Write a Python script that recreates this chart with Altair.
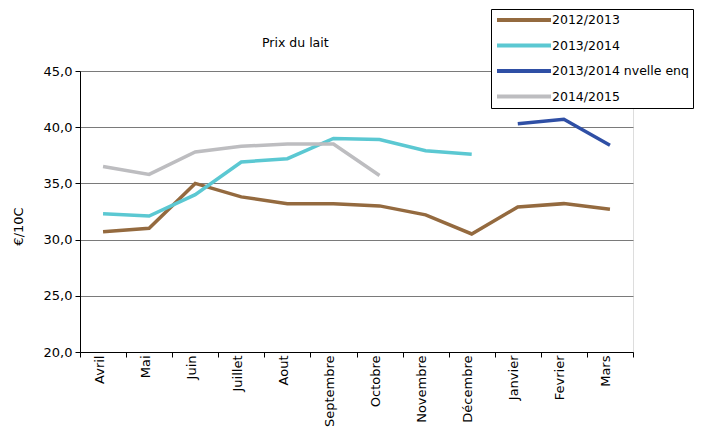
import altair as alt
import pandas as pd

months = ["Avril", "Mai", "Juin", "Juillet", "Aout", "Septembre", "Octobre",
          "Novembre", "Décembre", "Janvier", "Fevrier", "Mars"]
series_names = ["2012/2013", "2013/2014", "2013/2014 nvelle enq", "2014/2015"]
v_2012_2013 = [30.7, 31.0, 35.0, 33.8, 33.2, 33.2, 33.0, 32.2, 30.5, 32.9, 33.2, 32.7]
v_2013_2014 = [32.3, 32.1, 34.0, 36.9, 37.2, 39.0, 38.9, 37.9, 37.6, None, None, None]
v_2013_2014_nv = [None, None, None, None, None, None, None, None, None, 40.3, 40.7, 38.4]
v_2014_2015 = [36.5, 35.8, 37.8, 38.3, 38.5, 38.5, 35.7, None, None, None, None, None]
colors = ["#946a3f", "#5bc8d2", "#2f4fa5", "#bdbdc0"]
y_ticks = [20, 25, 30, 35, 40, 45]

rows = []
for name, vals in zip(series_names, [v_2012_2013, v_2013_2014, v_2013_2014_nv, v_2014_2015]):
    for m, v in zip(months, vals):
        if v is not None:
            rows.append({"mois": m, "serie": name, "prix": v})
df = pd.DataFrame(rows)

FONT = "DejaVu Sans"

chart = alt.Chart(df).mark_line(strokeWidth=3.5, strokeCap="butt").encode(
    x=alt.X("mois:N", sort=months, scale=alt.Scale(domain=months, paddingInner=0, paddingOuter=0),
            axis=alt.Axis(title=None, labelAngle=-90, labelFontSize=13, labelFont=FONT,
                          labelColor="#000000", tickBand="extent", tickSize=5,
                          tickColor="#000000", domainColor="#000000", labelPadding=-2,
                          labelOffset=-4)),
    y=alt.Y("prix:Q", scale=alt.Scale(domain=[20, 45], nice=False, zero=False),
            axis=alt.Axis(title="€/10C", values=y_ticks, grid=True, gridColor="#7a7a7a",
                          labelExpr="replace(format(datum.value, '.1f'), '.', ',')",
                          labelFontSize=13, labelFont=FONT, labelColor="#000000",
                          tickSize=5, tickColor="#000000", domainColor="#000000",
                          titleFont=FONT, titleFontSize=13, titleFontWeight="normal",
                          titleColor="#000000", titleAngle=-90, titleX=-62, titleY=155,
                          titleAlign="center", titleBaseline="middle", labelPadding=3)),
    color=alt.Color("serie:N", sort=series_names,
                    scale=alt.Scale(domain=series_names, range=colors),
                    legend=alt.Legend(title=None, orient="none", legendX=411, legendY=-62,
                                      symbolType="M-3,0H3", symbolSize=324, symbolOffset=18,
                                      symbolStrokeWidth=4, clipHeight=14, rowPadding=11.5,
                                      labelFont=FONT, labelFontSize=12.5, labelColor="#000000",
                                      labelOffset=17, padding=4, strokeColor="#000000",
                                      fillColor="#ffffff", labelLimit=300)),
).properties(
    width=553,
    height=281,
    title=alt.TitleParams("Prix du lait", anchor="start", frame="group", dx=182, offset=-41,
                          font=FONT, fontSize=12.5, fontWeight="normal", color="#000000"),
    padding={"left": 72, "top": 63, "right": 67, "bottom": 76},
    autosize=alt.AutoSizeParams(type="none"),
).configure_view(stroke="#8c8c8c", strokeWidth=1.5).configure(background="#ffffff")

chart.save("out.html", embed_options={"renderer": "svg", "actions": False})
